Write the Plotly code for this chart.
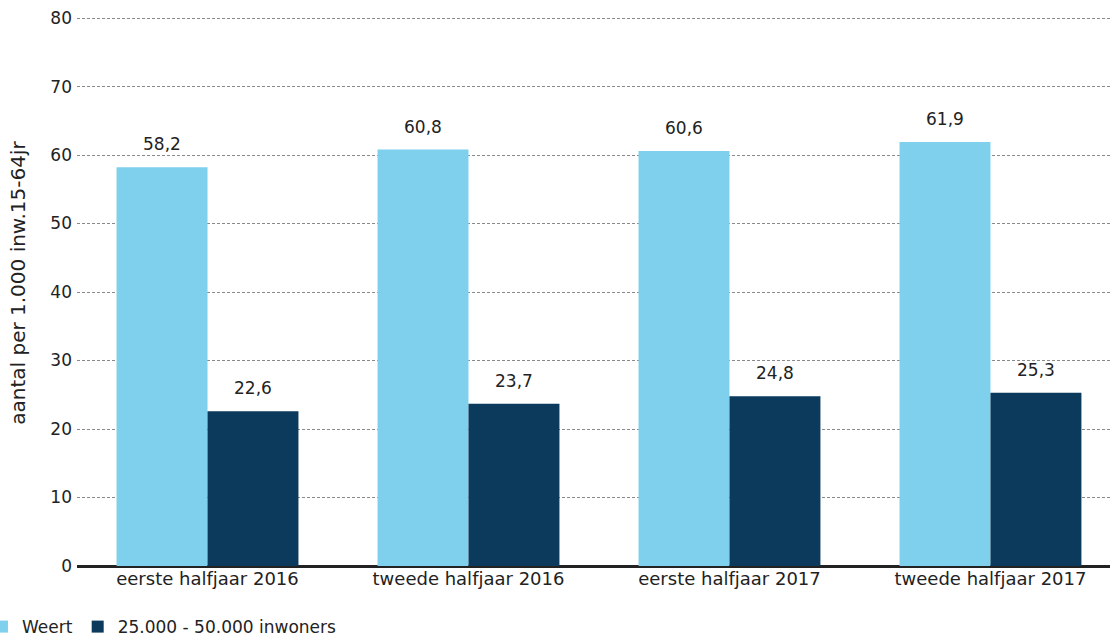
import plotly.graph_objects as go

categories = ["eerste halfjaar 2016", "tweede halfjaar 2016", "eerste halfjaar 2017", "tweede halfjaar 2017"]
weert = [58.2, 60.8, 60.6, 61.9]
ref_group = [22.6, 23.7, 24.8, 25.3]
series_names = ["Weert", "25.000 - 50.000 inwoners"]
y_ticks = [0, 10, 20, 30, 40, 50, 60, 70, 80]

FONT = "DejaVu Sans"
BARGAP = 0.303
fig = go.Figure()
fig.add_trace(go.Bar(x=categories, y=weert, name=series_names[0], marker_color="#7FD0EC",
                     marker_line_width=0, offsetgroup="a"))
fig.add_trace(go.Bar(x=categories, y=ref_group, name=series_names[1], marker_color="#0B3A5C",
                     marker_line_width=0, offsetgroup="b"))

# value labels as annotations (shifted above bars)
half = (1 - BARGAP) / 4
for i, cat in enumerate(categories):
    for vals, off in ((weert, -half), (ref_group, half)):
        fig.add_annotation(x=i + off, y=vals[i], xref="x", yref="y",
                           text=f"{vals[i]:.1f}".replace(".", ","), showarrow=False,
                           yanchor="bottom", yshift=11,
                           font=dict(family=FONT, size=17, color="#222"))

# y-axis title
fig.add_annotation(x=(18 - 77) / 1033, y=0.515, xref="paper", yref="paper",
                   text="aantal per 1.000 inw.15-64jr",
                   showarrow=False, textangle=-90, xanchor="center", yanchor="middle",
                   font=dict(family=FONT, size=20, color="#222"))

fig.update_layout(
    width=1110, height=639,
    margin=dict(l=77, r=0, t=16, b=73, autoexpand=False),
    paper_bgcolor="white", plot_bgcolor="white",
    barmode="group", bargap=BARGAP, bargroupgap=0,
    font=dict(family=FONT, size=17, color="#222"),
    separators=",.",
    showlegend=True,
    legend=dict(orientation="h", x=-0.092, xanchor="left", y=-0.111, yanchor="middle",
                font=dict(family=FONT, size=17, color="#222"), itemwidth=30,
                traceorder="normal"),
    xaxis=dict(showgrid=False, showline=False, ticks="", automargin=False,
               range=[-0.5, 3.458],
               tickfont=dict(size=18, color="#222")),
    yaxis=dict(range=[0, 80.3], tickvals=y_ticks, showgrid=True, gridcolor="#8a8a8a",
               griddash="3px,2px", gridwidth=1, zeroline=True, zerolinecolor="#222",
               zerolinewidth=3, showline=False, ticks="", automargin=False,
               ticklabelstandoff=4,
               tickfont=dict(size=17, color="#222")),
)

fig.write_html("out.html", config={"displayModeBar": False},
               post_script="document.body.style.margin='0px';")
